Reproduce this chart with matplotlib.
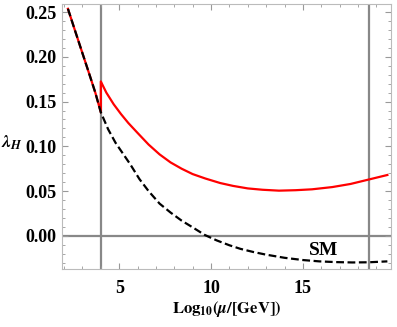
import matplotlib.pyplot as plt
from matplotlib.ticker import MultipleLocator

# SM running of lambda_H (black dashed)
sm_x = [2.21, 2.6, 3.0, 3.4, 3.7, 4.0, 4.4, 4.8, 5.2, 5.6, 6.1, 6.6, 7.2, 7.8,
        8.4, 9.0, 9.66, 10.3, 11.0, 11.6, 12.3, 13.0, 14.0, 15.0, 15.9, 16.8,
        17.7, 18.6, 19.6]
sm_y = [0.2536, 0.229, 0.204, 0.179, 0.160, 0.138, 0.119, 0.104, 0.092, 0.080,
        0.0635, 0.050, 0.036, 0.026, 0.017, 0.0095, 0.001, -0.005, -0.0105,
        -0.0145, -0.018, -0.021, -0.0245, -0.027, -0.0285, -0.0293, -0.0297,
        -0.0295, -0.0285]

# model with new physics switched on at 10^4 GeV (red)
red_x = [2.21, 2.6, 3.0, 3.4, 3.7, 4.0, 4.0, 4.3, 4.7, 5.1, 5.5, 6.0, 6.6, 7.2,
         7.8, 8.4, 9.0, 9.7, 10.5, 11.2, 12.0, 12.8, 13.7, 14.6, 15.5, 16.6,
         17.6, 18.5, 19.6]
red_y = [0.2536, 0.229, 0.204, 0.179, 0.160, 0.138, 0.1725, 0.160, 0.147, 0.136,
         0.126, 0.115, 0.102, 0.091, 0.082, 0.075, 0.069, 0.064, 0.059, 0.0558,
         0.053, 0.0515, 0.0505, 0.051, 0.052, 0.0545, 0.058, 0.0625, 0.068]

vlines = [4.0, 18.6]

plt.rcParams['font.family'] = ['Liberation Serif', 'DejaVu Serif']
plt.rcParams['font.weight'] = 'bold'
plt.rcParams['mathtext.fontset'] = 'stix'

fig = plt.figure(figsize=(3.97, 3.27), dpi=100)
ax = fig.add_axes([0.1554, 0.1774, 0.8296, 0.8104])

ax.axhline(0, color='#888888', lw=1.6, zorder=1)
for v in vlines:
    ax.axvline(v, color='#888888', lw=1.6, zorder=1)

ax.plot(red_x, red_y, color='#ff0000', lw=1.6, zorder=2)
ax.plot(sm_x, sm_y, color='black', lw=1.6, ls=(0, (3.5, 1.6)), zorder=3)

ax.text(16.13, -0.016, 'SM', fontsize=14, fontweight='bold', ha='center', va='center')

ax.set_xlim(1.87, 19.8)
ax.set_ylim(-0.037, 0.259)
ax.xaxis.set_major_locator(MultipleLocator(5))
ax.xaxis.set_minor_locator(MultipleLocator(1))
ax.yaxis.set_major_locator(MultipleLocator(0.05))
ax.yaxis.set_minor_locator(MultipleLocator(0.01))
ax.yaxis.set_major_formatter(plt.FormatStrFormatter('%.2f'))

ax.tick_params(which='both', direction='in', top=True, right=True, color='#999999',
               labelsize=13)
ax.tick_params(axis='x', pad=8)
ax.tick_params(axis='y', pad=3.5)
ax.tick_params(which='major', length=4, width=0.8)
ax.tick_params(which='minor', length=2, width=0.6)
for s in ax.spines.values():
    s.set_color('#bbbbbb')
    s.set_linewidth(0.8)

ax.set_xlabel(r'$\mathbf{Log}_{\mathbf{10}}\mathbf{(}\mu\mathbf{/[GeV])}$', fontsize=12)
ax.xaxis.set_label_coords(0.5, -0.115)
ax.set_ylabel(r'$\lambda_H$', fontsize=13, rotation=0, va='center')
ax.yaxis.set_label_coords(-0.152, 0.478)

fig.savefig('out.png', dpi=100)
